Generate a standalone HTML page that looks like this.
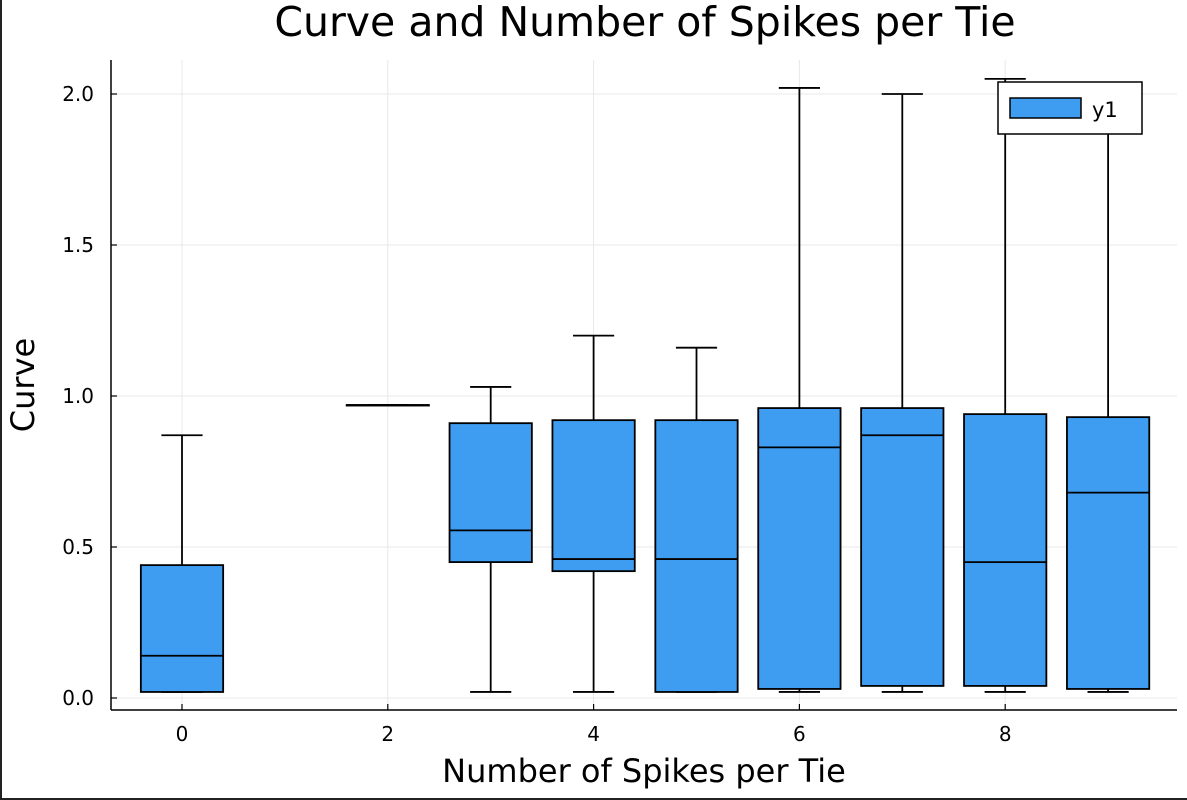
<!DOCTYPE html>
<html><head><meta charset="utf-8"><style>
body{margin:0;background:#fff}
svg{display:block;font-family:"DejaVu Sans","Liberation Sans",sans-serif}
</style></head><body>
<svg id="chart" width="1187" height="800">
<rect x="0" y="0" width="1187" height="800" fill="#fff"/>
<rect x="0" y="0" width="2" height="800" fill="#222"/>
<rect x="0" y="798" width="1187" height="2" fill="#222"/>
<text x="645" y="36" font-size="41" text-anchor="middle">Curve and Number of Spikes per Tie</text>
<text x="644" y="782" font-size="32" text-anchor="middle">Number of Spikes per Tie</text>
<text x="34" y="385" font-size="32" text-anchor="middle" transform="rotate(-90 34 385)">Curve</text>
<g id="grid"></g><g id="boxes"></g><g id="axes"></g>
<g>
<rect x="998" y="82" width="144" height="52" fill="#fff" stroke="#000" stroke-width="1.5"/>
<rect x="1010" y="98" width="71" height="20" fill="#3e9cf1" stroke="#000" stroke-width="1.5"/>
<text x="1092" y="117" font-size="21">y1</text>
</g>
</svg>
<script>
const categories=[0,2,3,4,5,6,7,8,9];
const lowW=[0.02,0.97,0.02,0.02,0.02,0.02,0.02,0.02,0.02];
const q1=[0.02,0.97,0.45,0.42,0.02,0.03,0.04,0.04,0.03];
const med=[0.14,0.97,0.555,0.46,0.46,0.83,0.87,0.45,0.68];
const q3=[0.44,0.97,0.91,0.92,0.92,0.96,0.96,0.94,0.93];
const highW=[0.87,0.97,1.03,1.20,1.16,2.02,2.00,2.05,2.00];
const xTicks=[0,2,4,6,8];
const yTicks=[0,0.5,1.0,1.5,2.0];
const yTickLabels=["0.0","0.5","1.0","1.5","2.0"];
const NS='http://www.w3.org/2000/svg';
const X=v=>182+v*102.9, Y=v=>698-v*302;
function mk(tag,at,parent){const e=document.createElementNS(NS,tag);for(const k in at)e.setAttribute(k,at[k]);parent.appendChild(e);return e;}
const grid=document.getElementById('grid'),boxes=document.getElementById('boxes'),axes=document.getElementById('axes');
xTicks.forEach(t=>{const l=mk('line',{x1:X(t),x2:X(t),y1:60,y2:710,stroke:'#e8e8e8','stroke-width':1},grid);

});
yTicks.forEach(t=>{const l=mk('line',{x1:111,x2:1177,y1:Y(t),y2:Y(t),stroke:'#e8e8e8','stroke-width':1},grid);

});
categories.forEach((c,i)=>{
 const g=mk('g',{},boxes);
 
 
 const s={stroke:'#000','stroke-width':1.8};
 mk('line',Object.assign({x1:X(c),x2:X(c),y1:Y(q3[i]),y2:Y(highW[i])},s),g);
 mk('line',Object.assign({x1:X(c),x2:X(c),y1:Y(q1[i]),y2:Y(lowW[i])},s),g);
 mk('line',Object.assign({x1:X(c-0.2),x2:X(c+0.2),y1:Y(highW[i]),y2:Y(highW[i])},s),g);
 mk('line',Object.assign({x1:X(c-0.2),x2:X(c+0.2),y1:Y(lowW[i]),y2:Y(lowW[i])},s),g);
 mk('rect',Object.assign({x:X(c-0.4),y:Y(q3[i]),width:X(c+0.4)-X(c-0.4),height:Math.max(0.5,Y(q1[i])-Y(q3[i])),fill:'#3e9cf1'},s),g);
 mk('line',Object.assign({x1:X(c-0.4),x2:X(c+0.4),y1:Y(med[i]),y2:Y(med[i])},s),g);
});
mk('line',{x1:111,x2:1177,y1:710,y2:710,stroke:'#000','stroke-width':1.5},axes);
mk('line',{x1:111,x2:111,y1:60,y2:710,stroke:'#000','stroke-width':1.5},axes);
xTicks.forEach(t=>{mk('line',{x1:X(t),x2:X(t),y1:710,y2:704,stroke:'#000','stroke-width':1.2},axes);
 const e=mk('text',{x:X(t),y:741,'font-size':20,'text-anchor':'middle'},axes);e.textContent=t;
 
 });
yTicks.forEach((t,i)=>{mk('line',{x1:111,x2:117,y1:Y(t),y2:Y(t),stroke:'#000','stroke-width':1.2},axes);
 const e=mk('text',{x:94,y:Y(t)+7,'font-size':20,'text-anchor':'end'},axes);e.textContent=yTickLabels[i];
 
 });
</script>
</body></html>
